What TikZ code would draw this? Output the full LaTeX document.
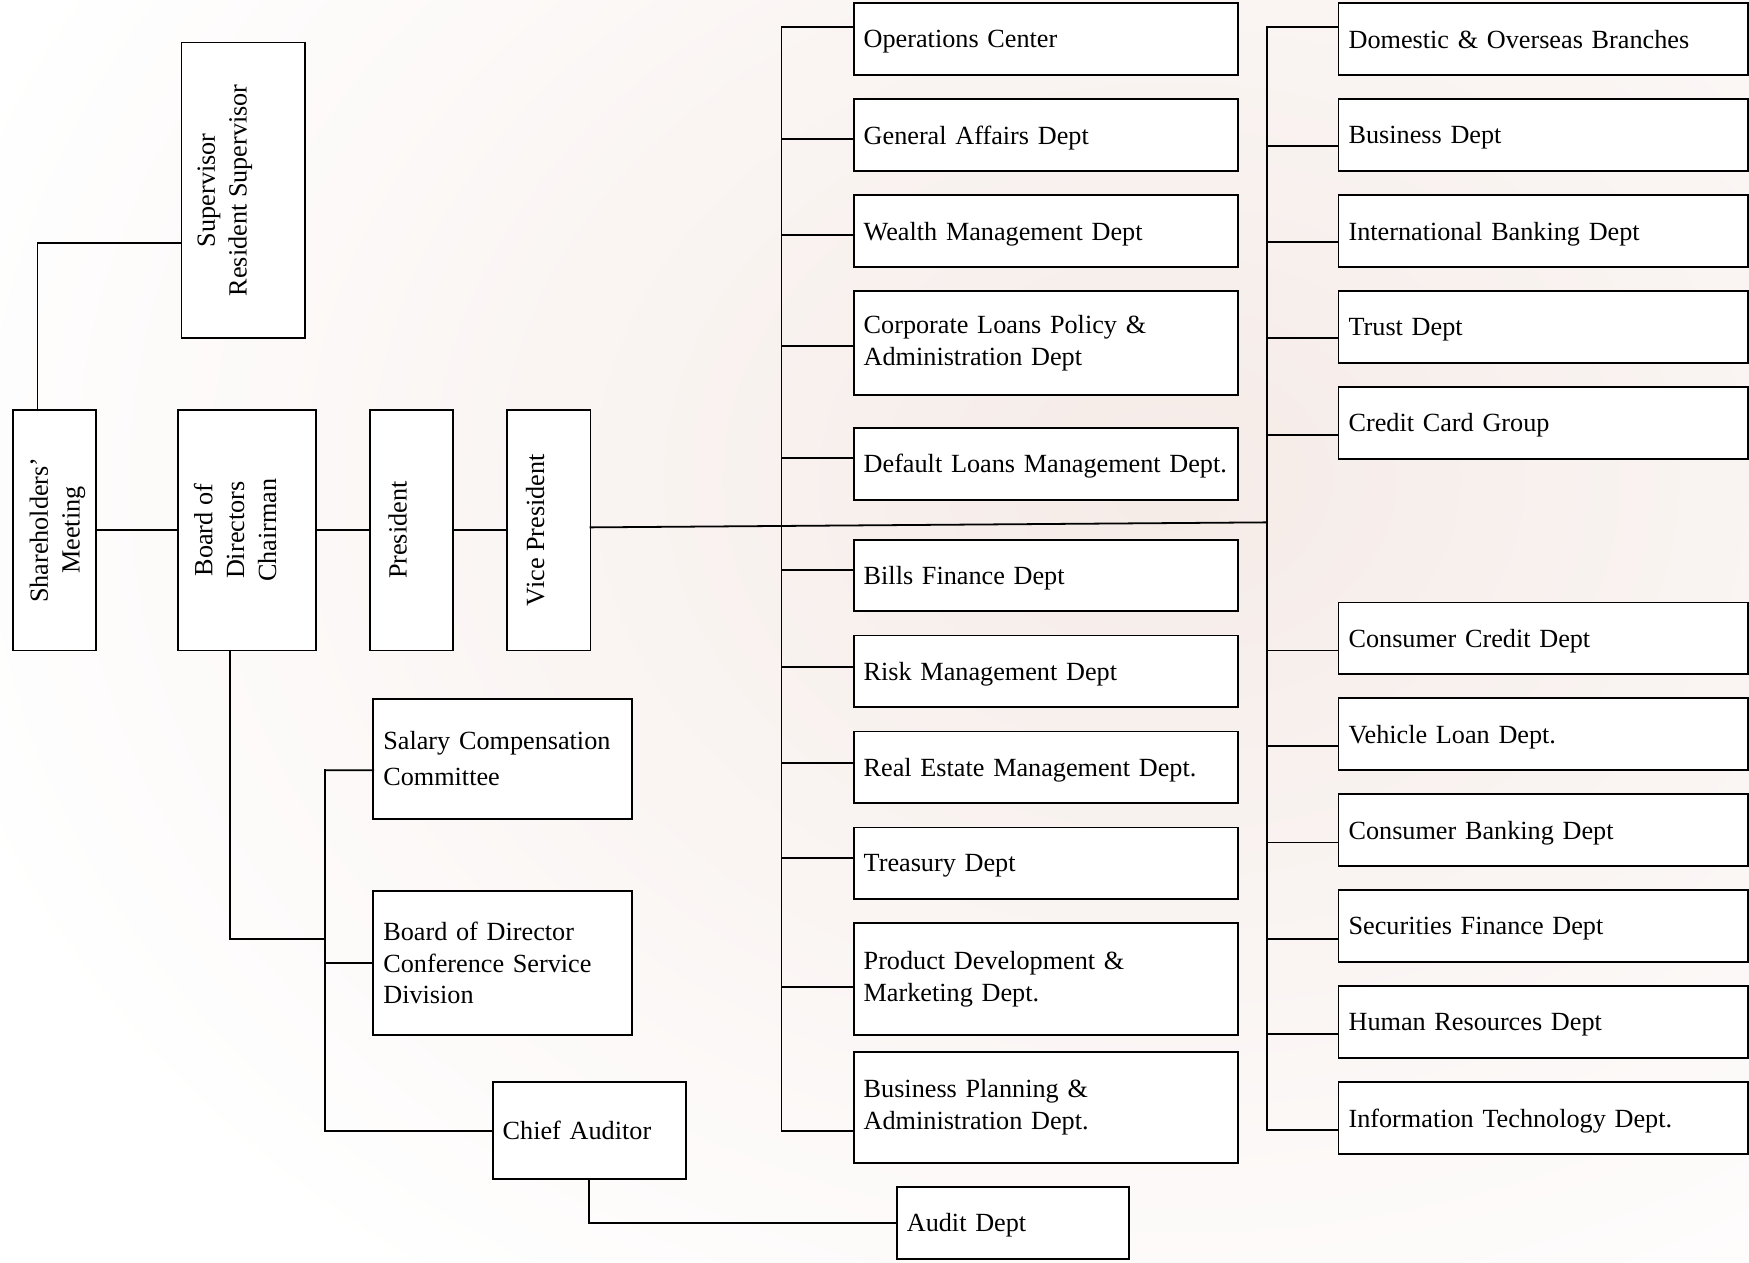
\documentclass[tikz,border=0pt]{standalone}
\usepackage{fontspec}
\setmainfont{Liberation Serif}
\usetikzlibrary{positioning}

\definecolor{bgtint}{RGB}{245,235,231}
\newcommand{\orgfont}{\fontsize{23.5}{28.5}\selectfont}
\newcommand{\rotlabel}[2][0pt]{\rotatebox{90}{\raisebox{#1}[\height][\depth]{\begin{tabular}{@{}c@{}}#2\end{tabular}}}}

\begin{document}
\begin{tikzpicture}[x=1pt, y=-1pt, line width=1.6pt, line cap=rect, node distance=21.7pt,
    box/.style={draw, fill=white, outer sep=0pt, inner xsep=9pt, inner ysep=0pt, align=left, font=\orgfont},
    midtall/.style={box, text width=326.5pt},
    midbox/.style={midtall, text depth=0pt, minimum height=64.3pt},
    rgtbox/.style={box, text width=349pt, text depth=0pt, minimum height=64.3pt},
    tallbox/.style={draw, fill=white, outer sep=0pt, inner sep=0pt, font=\orgfont, minimum height=215.8pt}]
  \useasboundingbox (0,0) rectangle (1568,1132);
  % faded backdrop
  \shade[inner color=bgtint, outer color=white] (1050,430) ellipse [x radius=1150, y radius=900];

  % owners and officers
  \node[tallbox, minimum width=74.5pt] (sh) at (49,475.3) {\rotlabel[-2.5pt]{Shareholders'\\Meeting}};
  \node[tallbox, minimum width=111pt, minimum height=265.1pt] (sup) at (218.2,170.6) {\rotlabel[17pt]{Supervisor\\Resident Supervisor}};
  \node[tallbox, minimum width=123.4pt, right=73.3pt of sh] (bod) {\rotlabel[8pt]{Board of\\Directors\\Chairman}};
  \node[tallbox, minimum width=74.4pt, right=48.6pt of bod] (pres) {\rotlabel[10pt]{President}};
  \node[tallbox, minimum width=74.5pt, right=48.9pt of pres] (vp) {\rotlabel[10pt]{Vice President}};

  % middle column
  \node[midbox] (ops) at (937.55,35.05) {Operations Center};
  \node[midbox, below=of ops] (ga) {General Affairs Dept};
  \node[midbox, below=of ga] (wm) {Wealth Management Dept};
  \node[midtall, below=of wm, minimum height=93.2pt] (corp) {Corporate Loans Policy \&\\Administration Dept};
  \node[midbox, below=29.5pt of corp] (dfl) {\mbox{Default Loans Management Dept.}};
  \node[midbox, below=35.9pt of dfl] (bills) {Bills Finance Dept};
  \node[midbox, below=of bills] (risk) {Risk Management Dept};
  \node[midbox, below=of risk] (rem) {Real Estate Management Dept.};
  \node[midbox, below=of rem] (tre) {Treasury Dept};
  \node[midtall, below=of tre, minimum height=100.1pt] (pdm) {Product Development \&\\Marketing Dept.};
  \node[midtall, below=14.9pt of pdm, minimum height=99.7pt] (bpa) {Business Planning \&\\Administration Dept.};

  % right column
  \node[rgtbox] (dob) at (1383.5,35.05) {Domestic \& Overseas Branches};
  \node[rgtbox, below=of dob] (bus) {Business Dept};
  \node[rgtbox, below=of bus] (ibd) {International Banking Dept};
  \node[rgtbox, below=of ibd] (tru) {Trust Dept};
  \node[rgtbox, below=of tru] (ccg) {Credit Card Group};
  \node[rgtbox, below=128.9pt of ccg] (ccd) {Consumer Credit Dept};
  \node[rgtbox, below=of ccd] (vld) {Vehicle Loan Dept.};
  \node[rgtbox, below=of vld] (cbd) {Consumer Banking Dept};
  \node[rgtbox, below=of cbd] (sfd) {Securities Finance Dept};
  \node[rgtbox, below=of sfd] (hrd) {Human Resources Dept};
  \node[rgtbox, below=of hrd] (itd) {Information Technology Dept.};

  % under the board
  \node[box, text width=213.7pt, minimum height=107.5pt] (sal) at (450.5,680.2) {Salary Compensation\\[3.5pt]Committee};
  \node[box, text width=213.7pt, minimum height=128.8pt] (bdc) at (450.5,863.4) {Board of Director\\Conference Service\\Division};
  \node[box, text width=155pt, minimum height=86.8pt] (cha) at (528.2,1013.7) {Chief Auditor};
  \node[box, text width=189.8pt, text depth=0pt, minimum height=64.3pt] (aud) at (907.9,1096.3) {Audit Dept};

  \coordinate (mtop) at (700.6,23.8);
  \coordinate (mbot) at (700.6,1013.4);
  \coordinate (rtop) at (1135.6,23.8);
  \coordinate (rbot) at (1135.6,1013.4);
  \coordinate (ltop) at (291.4,690.6);
  \coordinate (lmid) at (291.4,841.7);
  \coordinate (lbot) at (291.4,1013.7);

  % lines
  \draw ([xshift=-15.3pt]sh.north) |- ([yshift=-47pt]sup.west);
  \draw (sh) -- (bod) -- (pres) -- (vp);
  \draw ([yshift=2.5pt]vp.east) -- ([yshift=7pt]vp.east -| rtop);
  \draw (mtop) -- (mbot);
  \draw (rtop) -- (rbot);
  \foreach \n/\dy in {ops/-11, ga/3.5, wm/3.5, corp/3, dfl/-5, bills/-5, risk/-4, rem/-4, tre/-4.5, pdm/7, bpa/21}
    \draw (\n.west) ++(0,\dy) -- ++(-64.7,0);
  \foreach \n/\dy in {dob/-11, bus/10, ibd/10, tru/10, ccg/11, ccd/11, vld/10.5, cbd/11, sfd/11.5, hrd/11, itd/11}
    \draw (\n.west) ++(0,\dy) -- ++(-64.4,0);
  \draw ([xshift=-15.4pt]bod.south) |- (lmid);
  \draw (ltop) -- (lbot);
  \draw ([yshift=-10.4pt]sal.west) -- (ltop);
  \draw (bdc.west) -- (bdc.west -| lmid);
  \draw (cha.west) -- (lbot);
  \draw (cha.south) |- (aud.west);
\end{tikzpicture}
\end{document}
